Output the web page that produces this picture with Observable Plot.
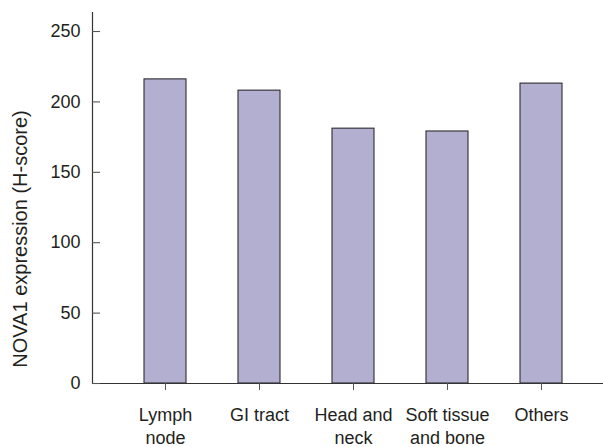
<!DOCTYPE html>
<html>
<head>
<meta charset="utf-8">
<script src="https://cdn.jsdelivr.net/npm/d3@7"></script>
<script src="https://cdn.jsdelivr.net/npm/@observablehq/plot@0.6"></script>
<style>
  html, body { margin: 0; padding: 0; background: #fff; }
  #chart svg { display: block; }
</style>
</head>
<body>
<div id="chart"></div>
<script>
const categories = ["Lymph node", "GI tract", "Head and neck", "Soft tissue and bone", "Others"];
const tickLabels = ["Lymph\nnode", "GI tract", "Head and\nneck", "Soft tissue\nand bone", "Others"];
const values = [216, 208, 181, 179, 213];
const yTicks = [0, 50, 100, 150, 200, 250];
const yLabel = "NOVA1 expression (H-score)";

const data = categories.map((c, i) => ({category: c, value: values[i]}));
const labelOf = new Map(categories.map((c, i) => [c, tickLabels[i]]));

const W = 603, H = 447, ML = 92, MR = 0, MT = 12, MB = 64;
const font = "'Liberation Sans', Arial, Helvetica, sans-serif";
const ink = "#231f20";

const chart = Plot.plot({
  width: W,
  height: H,
  marginLeft: ML,
  marginRight: MR,
  marginTop: MT,
  marginBottom: MB,
  style: {fontFamily: font, color: ink, background: "#fff", overflow: "visible"},
  x: {
    type: "band",
    domain: categories,
    range: [118.4, 588.4],
    paddingInner: 0.55,
    paddingOuter: 0.275
  },
  y: {domain: [0, 263.5]},
  marks: [
    Plot.barY(data, {x: "category", y: "value", fill: "#b2afd1", stroke: "#2e2b30", strokeWidth: 1.1}),
    Plot.ruleY([0], {stroke: "#333", strokeWidth: 1.2}),
    Plot.frame({anchor: "left", stroke: "#333", strokeWidth: 1.2}),
    Plot.tickY(yTicks, {y: d => d, insetRight: W - ML - MR - 8, stroke: "#555", strokeWidth: 1.1}),
    Plot.axisY({ticks: yTicks, tickSize: 0, tickPadding: 12, fontSize: 18, label: null, fill: ink}),
    Plot.axisX({
      tickSize: 7,
      tickPadding: 14.5,
      fontSize: 18,
      lineHeight: 1.28,
      label: null,
      stroke: "#555",
      fill: ink,
      tickFormat: d => labelOf.get(d)
    }),
    Plot.text([yLabel], {
      text: d => d,
      frameAnchor: "left",
      textAnchor: "middle",
      lineAnchor: "middle",
      dx: -72,
      dy: 41,
      rotate: -90,
      fontSize: 20,
      fill: ink
    })
  ]
});
document.getElementById("chart").appendChild(chart);
</script>
</body>
</html>
